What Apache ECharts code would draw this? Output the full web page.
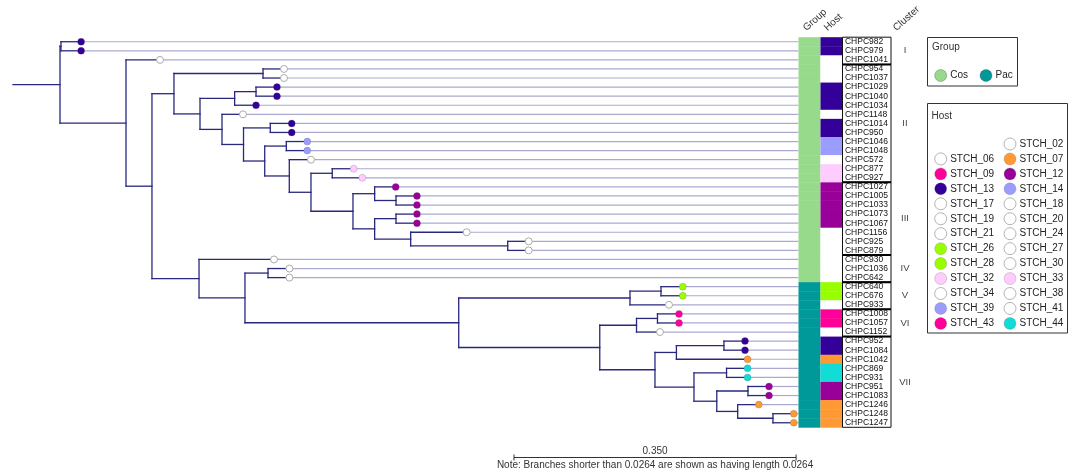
<!DOCTYPE html>
<html>
<head>
<meta charset="utf-8">
<title>Tree</title>
<script src="https://cdn.jsdelivr.net/npm/echarts@6/dist/echarts.min.js"></script>
<style>
  html, body { margin: 0; padding: 0; background: #fff; }
  #tree { width: 1078px; height: 475px; }
</style>
</head>
<body>
<div id="tree"></div>
<script>
  // tree (newick), branch lengths
  var pacClade = [
    '((',
    '(CHPC640:0.027,CHPC676:0.027):0.0385,CHPC933:0.0484',
    '):0.2125,(',
    '((CHPC1008:0.0267,CHPC1057:0.0267):0.026,CHPC1152:0.0291):0.0456,',
    '(',
    '((CHPC952:0.0261,CHPC1084:0.0261):0.059,CHPC1042:0.0883):0.0266,',
    '(',
    '(CHPC869:0.0261,CHPC931:0.0261):0.0404,',
    '((CHPC951:0.0261,CHPC1083:0.0261):0.0387,(CHPC1246:0.0262,(CHPC1248:0.0258,CHPC1247:0.0258):0.0438):0.0259):0.0283',
    '):0.0484',
    '):0.0685',
    '):0.175)'
  ].join('');

  var newick = [
    '(',
    '(CHPC982:0.025,CHPC979:0.025):0.0012,',
    '(CHPC1041:0.0422,(',
    '(',
    '(CHPC954:0.026,CHPC1037:0.026):0.1105,',
    '(',
    '((CHPC1029:0.026,CHPC1040:0.026):0.0265,CHPC1034:0.0265):0.043,',
    '(CHPC1148:0.026,(',
    '(CHPC1014:0.0266,CHPC950:0.0266):0.0332,',
    '(',
    '(CHPC1046:0.026,CHPC1048:0.026):0.0268,',
    '(CHPC572:0.0269,(',
    '(CHPC877:0.0266,CHPC927:0.0373):0.0264,',
    '(',
    '(CHPC1027:0.0261,(CHPC1005:0.026,CHPC1033:0.026):0.0265):0.0269,',
    '((CHPC1073:0.026,CHPC1067:0.026):0.0265,(CHPC1156:0.0695,(CHPC925:0.026,CHPC879:0.026):0.1204):0.0447):0.0269',
    '):0.0521',
    '):0.0269',
    '):0.0305',
    '):0.0263',
    '):0.0267',
    '):0.0273',
    '):0.0323',
    '):0.0273,',
    '(CHPC930:0.093,(',
    '(CHPC1036:0.0266,CHPC642:0.0266):0.0286,',
    pacClade + ':0.2652',
    '):0.057',
    '):0.0584',
    '):0.0322',
    '):0.0819',
    ');'
  ].join('');

  // host of each tip, top to bottom
  var tipHost = [
    'STCH_13', 'STCH_13', 'STCH_02', 'STCH_06', 'STCH_17', 'STCH_13', 'STCH_13', 'STCH_13',
    'STCH_18', 'STCH_13', 'STCH_13', 'STCH_14', 'STCH_14', 'STCH_19', 'STCH_32', 'STCH_33',
    'STCH_12', 'STCH_12', 'STCH_12', 'STCH_12', 'STCH_12', 'STCH_20', 'STCH_21', 'STCH_24',
    'STCH_27', 'STCH_30', 'STCH_34', 'STCH_26', 'STCH_28', 'STCH_38', 'STCH_09', 'STCH_43',
    'STCH_41', 'STCH_13', 'STCH_13', 'STCH_07', 'STCH_44', 'STCH_44', 'STCH_12', 'STCH_12',
    'STCH_07', 'STCH_07', 'STCH_07'
  ];

  var groupNames = ['Cos', 'Pac'];
  var groupSizes = [27, 16];
  var groupColors = ['#97da8b', '#009999'];

  var clusterNames = ['I', 'II', 'III', 'IV', 'V', 'VI', 'VII'];
  var clusterSizes = [3, 13, 8, 3, 3, 3, 10];

  var hostColors = {
    STCH_07: '#ff9933', STCH_09: '#ff0099', STCH_12: '#990099', STCH_13: '#330099',
    STCH_14: '#9c9cff', STCH_26: '#99ff00', STCH_28: '#99ff00', STCH_32: '#ffccff',
    STCH_33: '#ffccff', STCH_39: '#9c9cff', STCH_43: '#ff0099', STCH_44: '#11ddd6'
  };
  // legend order, two per row, first slot empty
  var hostLegend = [
    '', 'STCH_02', 'STCH_06', 'STCH_07', 'STCH_09', 'STCH_12', 'STCH_13', 'STCH_14',
    'STCH_17', 'STCH_18', 'STCH_19', 'STCH_20', 'STCH_21', 'STCH_24', 'STCH_26', 'STCH_27',
    'STCH_28', 'STCH_30', 'STCH_32', 'STCH_33', 'STCH_34', 'STCH_38', 'STCH_39', 'STCH_41',
    'STCH_43', 'STCH_44'
  ];

  var scaleBarLength = 0.35;
  var minBranch = 0.0264;

  var FONT = 'Liberation Sans, Arial, sans-serif';
  var BRANCH = '#28287e';

  function parseNewick(s) {
    var i = 0;
    function node() {
      var n = { children: [], name: '', len: 0 };
      if (s[i] === '(') {
        i++;
        n.children.push(node());
        while (s[i] === ',') { i++; n.children.push(node()); }
        i++;
      }
      var m = /^[^:,();]*/.exec(s.slice(i));
      n.name = m[0]; i += m[0].length;
      if (s[i] === ':') {
        i++;
        var m2 = /^[0-9.eE+-]+/.exec(s.slice(i));
        n.len = parseFloat(m2[0]); i += m2[0].length;
      }
      return n;
    }
    return node();
  }

  var root = parseNewick(newick);
  var tips = [];
  function layout(n, depth) {
    n.x = depth + n.len;
    if (!n.children.length) {
      n.y = tips.length;
      tips.push(n);
    } else {
      n.children.forEach(function (c) { layout(c, n.x); });
      n.y = (n.children[0].y + n.children[n.children.length - 1].y) / 2;
    }
  }
  layout(root, 0);

  var segs = [[-0.0583, root.y, 0, root.y]];
  function collect(n) {
    if (!n.children.length) return;
    segs.push([n.x, n.children[0].y, n.x, n.children[n.children.length - 1].y]);
    n.children.forEach(function (c) {
      segs.push([n.x, c.y, c.x, c.y]);
      collect(c);
    });
  }
  collect(root);

  var tipGroup = [];
  groupSizes.forEach(function (s, g) { for (var k = 0; k < s; k++) tipGroup.push(g); });

  var clusterRows = [];
  var r0 = 0;
  clusterSizes.forEach(function (s, k) { clusterRows.push([r0, r0 + s - 1, k]); r0 += s; });

  function hostColor(h) { return hostColors[h] || '#ffffff'; }

  var dots = tips.map(function (t, i) {
    var c = hostColors[tipHost[i]];
    return {
      value: [t.x, i],
      itemStyle: c ? { color: c, borderColor: 'rgba(90,90,90,0.3)', borderWidth: 0.8, opacity: 1 }
                   : { color: '#ffffff', borderColor: '#acacac', borderWidth: 1, opacity: 1 }
    };
  });

  var chart = echarts.init(document.getElementById('tree'));

  var graphic = [];
  [['Group', 808, 33], ['Host', 829, 33], ['Cluster', 898, 33]].forEach(function (h) {
    graphic.push({
      type: 'text', x: h[1], y: h[2], rotation: 42 * Math.PI / 180,
      style: { text: h[0], font: '10px ' + FONT, fill: '#333', align: 'left', verticalAlign: 'bottom' }
    });
  });

  // Group legend
  graphic.push({ type: 'rect', shape: { x: 927.5, y: 37.5, width: 90, height: 48.5 },
    style: { fill: 'none', stroke: '#333', lineWidth: 1 } });
  graphic.push({ type: 'text', x: 932, y: 47,
    style: { text: 'Group', font: '10px ' + FONT, fill: '#333', verticalAlign: 'middle' } });
  groupNames.forEach(function (g, k) {
    var cx = 940.7 + k * 45.3;
    graphic.push({ type: 'circle', shape: { cx: cx, cy: 75.5, r: 6 },
      style: { fill: groupColors[k], stroke: 'rgba(60,60,60,0.4)', lineWidth: 0.8 } });
    graphic.push({ type: 'text', x: cx + 9.5, y: 75.5,
      style: { text: g, font: '10px ' + FONT, fill: '#222', verticalAlign: 'middle' } });
  });

  // Host legend
  graphic.push({ type: 'rect', shape: { x: 927.5, y: 103.5, width: 140, height: 229.5 },
    style: { fill: 'none', stroke: '#333', lineWidth: 1 } });
  graphic.push({ type: 'text', x: 931.5, y: 116,
    style: { text: 'Host', font: '10px ' + FONT, fill: '#333', verticalAlign: 'middle' } });
  hostLegend.forEach(function (h, k) {
    if (!h) return;
    var col = k % 2, row = Math.floor(k / 2);
    var cx = 940.7 + col * 69.3, cy = 144 + row * 14.95;
    var c = hostColors[h];
    graphic.push({ type: 'circle', shape: { cx: cx, cy: cy, r: 6 },
      style: c ? { fill: c, stroke: 'rgba(90,90,90,0.3)', lineWidth: 0.8 }
               : { fill: '#fff', stroke: '#b4b4b4', lineWidth: 1 } });
    graphic.push({ type: 'text', x: cx + 9.5, y: cy,
      style: { text: h, font: '10px ' + FONT, fill: '#222', verticalAlign: 'middle' } });
  });

  var option = {
    animation: false,
    backgroundColor: '#ffffff',
    grid: { left: 11.64, top: 37.2, width: 830.8, height: 390.1 },
    xAxis: { type: 'value', min: -0.06, max: 0.9708, show: false },
    yAxis: [
      { type: 'value', min: -0.5, max: 42.5, inverse: true, show: false },
      {
        type: 'category', data: tips.map(function (t) { return t.name; }),
        inverse: true, position: 'right',
        axisLine: { show: false }, axisTick: { show: false }, splitLine: { show: false },
        axisLabel: { interval: 0, margin: 2.5, fontSize: 8.5, fontFamily: FONT, color: '#111' }
      }
    ],
    graphic: graphic,
    series: [
      {
        // tip guide lines
        type: 'custom', z: 1,
        data: tips.map(function (t, i) { return [t.x, i]; }),
        renderItem: function (params, api) {
          var p = api.coord([api.value(0), api.value(1)]);
          return { type: 'line', shape: { x1: p[0], y1: p[1], x2: 798.5, y2: p[1] },
            style: { stroke: '#aaaad0', lineWidth: 1.2 } };
        }
      },
      {
        type: 'custom', z: 2,
        data: segs,
        renderItem: function (params, api) {
          var a = api.coord([api.value(0), api.value(1)]);
          var b = api.coord([api.value(2), api.value(3)]);
          return { type: 'line', shape: { x1: a[0], y1: a[1], x2: b[0], y2: b[1] },
            style: { stroke: BRANCH, lineWidth: 1.3, lineCap: 'square' } };
        }
      },
      {
        type: 'scatter', z: 3, symbol: 'circle', symbolSize: 7,
        itemStyle: { opacity: 1 },
        data: dots
      },
      {
        // group and host strips
        type: 'custom', z: 1,
        data: tips.map(function (t, i) { return [0, i]; }),
        renderItem: function (params, api) {
          var i = params.dataIndex;
          var c = api.coord([0, i]);
          var h = api.size([0, 1])[1];
          return { type: 'group', children: [
            { type: 'rect', shape: { x: 798.5, y: c[1] - h / 2, width: 22, height: h + 0.4 },
              style: { fill: groupColors[tipGroup[i]] } },
            { type: 'rect', shape: { x: 820.5, y: c[1] - h / 2, width: 22, height: h + 0.4 },
              style: { fill: hostColor(tipHost[i]) } }
          ] };
        }
      },
      {
        // cluster boxes
        type: 'custom', z: 4,
        data: clusterRows,
        renderItem: function (params, api) {
          var a = api.coord([0, api.value(0) - 0.5]);
          var b = api.coord([0, api.value(1) + 0.5]);
          var k = params.dataIndex;
          var kids = [
            { type: 'rect', shape: { x: 842.5, y: a[1], width: 48.5, height: b[1] - a[1] },
              style: { fill: 'none', stroke: '#111', lineWidth: 1 } },
            { type: 'text', x: 905, y: (a[1] + b[1]) / 2,
              style: { text: clusterNames[k], font: '9.5px ' + FONT, fill: '#444',
                align: 'center', verticalAlign: 'middle' } }
          ];
          if (k > 0) kids.push({ type: 'line', shape: { x1: 842.5, y1: a[1], x2: 891, y2: a[1] },
            style: { stroke: '#000', lineWidth: 2 } });
          return { type: 'group', children: kids };
        }
      },
      {
        // scale bar
        type: 'custom', z: 4,
        data: [[0.5633, 0]],
        renderItem: function (params, api) {
          var a = api.coord([api.value(0), 0]);
          var b = api.coord([api.value(0) + scaleBarLength, 0]);
          var y = 457.5;
          var st = { stroke: '#333', lineWidth: 1 };
          return { type: 'group', children: [
            { type: 'line', shape: { x1: a[0], y1: y, x2: b[0], y2: y }, style: st },
            { type: 'line', shape: { x1: a[0], y1: y - 3, x2: a[0], y2: y + 3 }, style: st },
            { type: 'line', shape: { x1: b[0], y1: y - 3, x2: b[0], y2: y + 3 }, style: st },
            { type: 'text', x: (a[0] + b[0]) / 2, y: 456.5,
              style: { text: scaleBarLength.toFixed(3), font: '10px ' + FONT, fill: '#333',
                align: 'center', verticalAlign: 'bottom' } },
            { type: 'text', x: (a[0] + b[0]) / 2, y: 465,
              style: { text: 'Note: Branches shorter than ' + minBranch +
                ' are shown as having length ' + minBranch,
                font: '10px ' + FONT, fill: '#333', align: 'center', verticalAlign: 'middle' } }
          ] };
        }
      }
    ]
  };

  chart.setOption(option);
</script>
</body>
</html>
